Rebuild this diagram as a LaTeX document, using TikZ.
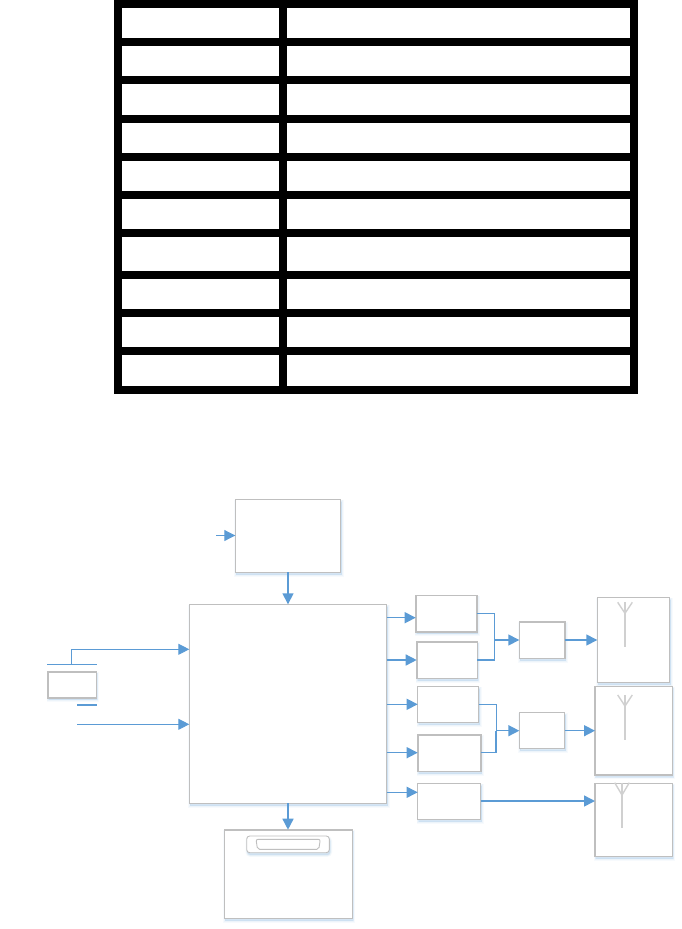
\documentclass[tikz,border=0pt]{standalone}
\usetikzlibrary{arrows.meta,fit,shadows,calc}
\definecolor{linkblue}{HTML}{5B9BD5}
\definecolor{boxgrey}{HTML}{BFBFBF}
\definecolor{antgrey}{HTML}{D0D0D0}
\definecolor{shadeblue}{HTML}{BDD7EE}
\tikzset{
  softshadow/.style={
    general shadow={shadow xshift=.8pt,shadow yshift=-2.2pt,draw=shadeblue,fill=shadeblue,line width=4pt,opacity=.12},
    general shadow={shadow xshift=.8pt,shadow yshift=-2.2pt,draw=shadeblue,fill=shadeblue,line width=2.5pt,opacity=.18},
    general shadow={shadow xshift=.8pt,shadow yshift=-2.2pt,draw=shadeblue,fill=shadeblue,line width=1pt,opacity=.30}},
  boxa/.style={softshadow,draw=boxgrey,fill=white,line width=1.1pt,inner sep=0pt,outer sep=0pt,rectangle},
  boxb/.style={boxa,line width=1.6pt},
  link/.style={draw=linkblue,line width=1.5pt},
  thinlink/.style={draw=linkblue,line width=1pt},
  tip/.style={-{Triangle[length=11pt,width=11pt]}},
  antenna/.style={draw=antgrey,line width=1.4pt},
  tablerule/.style={draw=black,line width=8pt}
}
\newcommand{\bx}[6]{\node[#1,fit={(#3,#4) (#5,#6)}] (#2) {};}
\begin{document}
\begin{tikzpicture}[x=1pt,y=-1pt]
\useasboundingbox (0,0) rectangle (682,929);
% table
\draw[tablerule] (118,4) rectangle (634,390);
\foreach \yy in {42,80,119,157,195,233,275,313,351}
  \draw[tablerule] (118,\yy) -- (634,\yy);
\draw[tablerule] (283,4) -- (283,390);
% boxes
\bx{boxa}{top}{235.3}{499.5}{340.7}{572.3}
\bx{boxa}{main}{189.3}{604.3}{386.7}{803.3}
\bx{boxb}{batt}{47.7}{671.7}{96.3}{697.7}
\bx{boxb}{bottom}{224.3}{829.7}{352.3}{918.3}
\node[softshadow,draw=boxgrey,fill=white,line width=.9pt,rounded corners=3pt,inner sep=0pt,outer sep=0pt,fit={(246.7,836) (329.3,852.7)}] (port) {};
\draw[draw=boxgrey,line width=.9pt,rounded corners=2pt] (256,839.3) -- (320.3,839.3) -- (318.8,849.3) -- (257.5,849.3) -- cycle;
\bx{boxb}{A}{415.7}{595.3}{476.7}{631.7}
\bx{boxb}{B}{416.7}{641.7}{477.3}{678.3}
\bx{boxa}{C}{417.7}{686.3}{478.7}{722.7}
\bx{boxb}{D}{417.7}{734.7}{480.7}{771.3}
\bx{boxa}{E}{417.7}{783.3}{480.7}{819.3}
\bx{boxb}{M1}{519.3}{621.7}{564.7}{658.3}
\bx{boxa}{M2}{519.3}{712.7}{564.7}{748.7}
\bx{boxa}{R1}{597.3}{597.3}{669.7}{682.3}
\bx{boxb}{R2}{595}{686.3}{672.3}{775}
\bx{boxa}{R3}{595}{783.3}{672.3}{856.3}
% antennas
\foreach \ax/\atop/\ajoin/\abot/\ah in {625/602.3/613.3/647.3/7.3, 625/695/706/740/7.3, 622/782.7/795/828/7.3}{
  \draw[antenna] (\ax,\atop) -- (\ax,\abot);
  \draw[antenna] (\ax-\ah,\atop) -- (\ax,\ajoin) -- (\ax+\ah,\atop);
}
% free ends and levels
\coordinate (srcin) at (216,535.5);
\coordinate (ya) at (0,617.7);
\coordinate (yb) at (0,660);
\coordinate (yc) at (0,704.3);
\coordinate (yd) at (0,752.7);
\coordinate (ye) at (0,792.3);
\coordinate (yao) at (0,613.3);
\coordinate (ycr) at (0,640);
\coordinate (yg) at (0,730.7);
\coordinate (yr) at (0,801);
\coordinate (plusL) at (47.3,664.7);
\coordinate (plusR) at (97,664.7);
\coordinate (plusS) at (71.7,664.7);
\coordinate (plusT) at (71.7,649.3);
\coordinate (minusL) at (77,705);
\coordinate (minusR) at (97,705);
\coordinate (gnd) at (77,724.3);
\coordinate (j1) at (494.5,640);
\coordinate (j2) at (496,730.7);
% connectors
\draw[thinlink,tip] (srcin) -- (top.west |- srcin);
\draw[link,tip] (top.south -| 288,0) -- (main.north -| 288,0);
\draw[link,tip] (main.south -| 288,0) -- (bottom.north -| 288,0);
\draw[link] (plusL) -- (plusR);
\draw[link] (minusL) -- (minusR);
\draw[thinlink,tip] (plusS) -- (plusT) -- (main.west |- plusT);
\draw[thinlink,tip] (gnd) -- (main.west |- gnd);
\draw[link,tip] (main.east |- ya) -- (A.west |- ya);
\draw[link,tip] (main.east |- yb) -- (B.west |- yb);
\draw[link,tip] (main.east |- yc) -- (C.west |- yc);
\draw[link,tip] (main.east |- yd) -- (D.west |- yd);
\draw[thinlink,tip] (main.east |- ye) -- (E.west |- ye);
\draw[thinlink] (A.east |- yao) -- (j1 |- yao) -- (j1);
\draw[link] (B.east |- yb) -- (j1 |- yb) -- (j1);
\draw[link,tip] (j1) -- (M1.west |- j1);
\draw[thinlink] (C.east |- yc) -- (j2 |- yc) -- (j2);
\draw[link] (D.east |- yd) -- (j2 |- yd) -- (j2);
\draw[link,tip] (j2) -- (M2.west |- j2);
\draw[link,tip] (M1.east |- ycr) -- (R1.west |- ycr);
\draw[link,tip] (M2.east |- yg) -- (R2.west |- yg);
\draw[link,tip] (E.east |- yr) -- (R3.west |- yr);
\end{tikzpicture}
\end{document}
